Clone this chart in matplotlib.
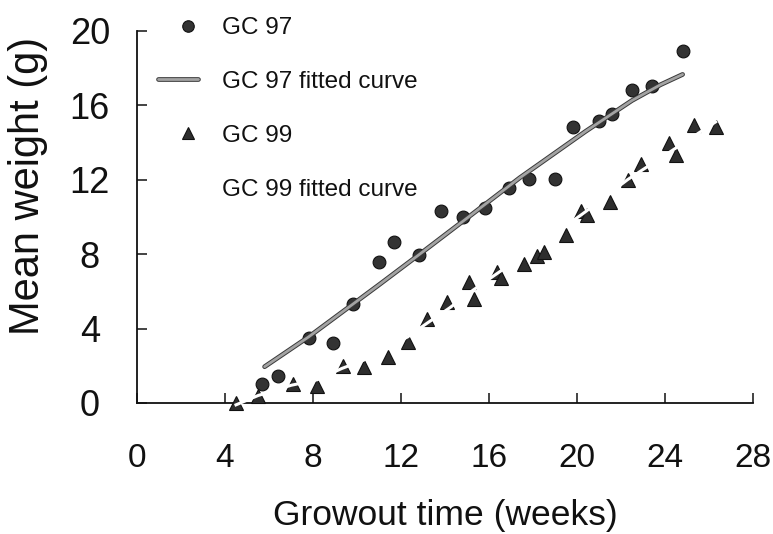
import matplotlib
matplotlib.use('Agg')
import matplotlib.pyplot as plt
import matplotlib.patheffects as pe
from matplotlib.legend_handler import HandlerLine2D

# ---- data ----
gc97_weeks = [5.7, 6.4, 7.8, 8.9, 9.8, 11.0, 11.7, 12.8, 13.8, 14.8,
              15.8, 16.9, 17.8, 19.0, 19.8, 21.0, 21.6, 22.5, 23.4, 24.8]
gc97_weight = [1.0, 1.45, 3.5, 3.2, 5.3, 7.55, 8.65, 7.95, 10.3, 10.0,
               10.5, 11.55, 12.05, 12.05, 14.85, 15.15, 15.5, 16.8, 17.05, 18.9]

gc97_fit_weeks = [5.8, 7.8, 9.8, 11.0, 12.8, 14.8, 17.4, 20.4, 22.5, 23.8, 24.8]
gc97_fit_weight = [1.95, 3.55, 5.3, 6.35, 7.95, 9.75, 12.1, 14.6, 16.25, 17.1, 17.65]

gc99_weeks = [4.5, 5.5, 7.1, 8.2, 9.35, 10.3, 11.4, 12.3, 13.2, 14.1,
              15.1, 15.3, 16.35, 16.55, 17.6, 18.2, 18.5, 19.5, 20.2, 20.45,
              21.5, 22.3, 22.9, 24.2, 24.5, 25.3, 26.3]
gc99_weight = [0.0, 0.35, 1.0, 0.9, 2.0, 1.95, 2.45, 3.3, 4.5, 5.4,
               6.5, 5.6, 7.05, 6.7, 7.45, 7.9, 8.1, 9.05, 10.3, 10.1,
               10.8, 12.0, 12.85, 13.95, 13.3, 14.95, 14.85]

gc99_fit_weeks = [4.5, 5.5, 7.0, 8.2, 9.3, 10.3, 12.3, 13.2, 14.2, 15.2,
                  16.3, 19.0, 20.3, 22.3, 24.5, 26.3]
gc99_fit_weight = [-0.1, 0.4, 0.95, 1.25, 1.85, 2.3, 3.55, 4.3, 5.1, 6.0,
                   6.9, 9.1, 10.2, 12.0, 13.7, 15.1]

x_ticks = [0, 4, 8, 12, 16, 20, 24, 28]
y_ticks = [0, 4, 8, 12, 16, 20]

labels = ["GC 97", "GC 97 fitted curve", "GC 99", "GC 99 fitted curve"]


class RightMarkerHandler(HandlerLine2D):
    """Place the single legend marker towards the right of the handle box."""
    def get_xdata(self, legend, xdescent, ydescent, width, height, fontsize):
        xd, xm = super().get_xdata(legend, xdescent, ydescent, width, height, fontsize)
        shift = 0.26 * width
        return [x + shift for x in xd], [x + shift for x in xm]


# ---- figure ----
plt.rcParams['font.family'] = ['Liberation Sans', 'DejaVu Sans']
W, H = 773, 534
fig = plt.figure(figsize=(W / 100, H / 100), dpi=100)
ax = fig.add_axes([137 / W, 1 - 403 / H, (753 - 137) / W, (403 - 30.7) / H])

h1, = ax.plot(gc97_weeks, gc97_weight, 'o', ms=9.2, mfc='#333333', mec='#111111',
              mew=0.8, linestyle='none', clip_on=False, zorder=3, label=labels[0])
h2, = ax.plot(gc97_fit_weeks, gc97_fit_weight, '-', color='#a3a3a3', lw=2.0,
              solid_capstyle='round', solid_joinstyle='round', zorder=4, label=labels[1],
              path_effects=[pe.Stroke(linewidth=3.4, foreground='#3a3a3a'), pe.Normal()])
h3, = ax.plot(gc99_weeks, gc99_weight, '^', ms=9.5, mfc='#2e2e2e', mec='#111111',
              mew=0.8, linestyle='none', clip_on=False, zorder=3, label=labels[2])
h4, = ax.plot(gc99_fit_weeks, gc99_fit_weight, '-', color='white', lw=2.2,
              zorder=5, clip_on=False, label=labels[3])

ax.set_xlim(0, 28)
ax.set_ylim(0, 20)
ax.set_xticks(x_ticks)
ax.set_yticks(y_ticks)
ax.set_xticklabels([str(t) for t in x_ticks])
ax.set_yticklabels([str(t) for t in y_ticks])

for s in ['top', 'right']:
    ax.spines[s].set_visible(False)
for s in ['left', 'bottom']:
    ax.spines[s].set_linewidth(1.3)
    ax.spines[s].set_color('#111111')

ax.tick_params(axis='x', direction='in', length=7.5, width=1.1, pad=29,
               labelsize=24, colors='#111111')
ax.tick_params(axis='y', direction='in', length=7.5, width=1.1, pad=34,
               labelsize=26, colors='#111111')
for lbl in ax.get_yticklabels():
    lbl.set_horizontalalignment('center')

fig.text(445 / W, 1 - 516 / H, "Growout time (weeks)", ha='center', va='center',
         fontsize=25.5, color='#111111')
fig.text(28 / W, 1 - 186 / H, "Mean weight (g)", ha='center', va='center',
         rotation=90, fontsize=30, color='#111111')

leg = fig.legend(handles=[h1, h2, h3, h4], labels=labels, loc='upper left',
                 bbox_to_anchor=(158 / W, 1 - 17 / H), frameon=False,
                 fontsize=17.5, handlelength=1.65, handletextpad=1.0,
                 labelspacing=1.31, borderpad=0, borderaxespad=0,
                 markerscale=0.9,
                 handler_map={h1: RightMarkerHandler(), h3: RightMarkerHandler()})
for t in leg.get_texts():
    t.set_color('#111111')

fig.savefig('out.png', dpi=100)
